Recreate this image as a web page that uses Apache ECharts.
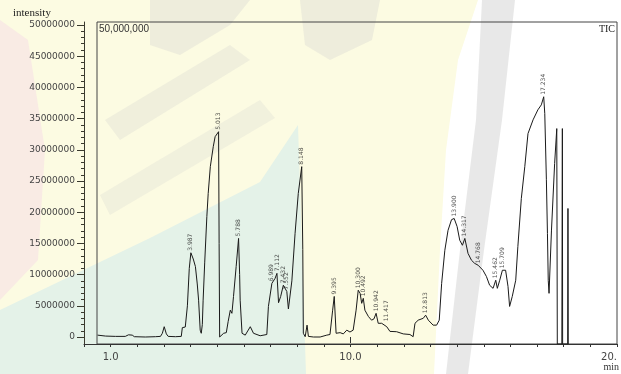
<!DOCTYPE html>
<html>
<head>
<meta charset="utf-8">
<script src="https://cdn.jsdelivr.net/npm/echarts@6/dist/echarts.min.js"></script>
<style>
html,body{margin:0;padding:0;background:#fff;}
#c{width:621px;height:374px;}
</style>
</head>
<body>
<div id="c"></div>
<script>
// Retention time (min)
const times = [0.51,0.81,1.18,1.55,1.67,1.74,1.81,1.89,2.30,2.68,2.87,2.94,3.01,3.09,3.16,3.43,3.65,3.69,3.80,3.88,3.95,4.01,4.10,4.18,4.25,4.30,4.36,4.40,4.44,4.47,4.53,4.61,4.66,4.74,4.85,4.92,5.05,5.07,5.09,5.11,5.24,5.34,5.41,5.49,5.55,5.61,5.71,5.80,5.84,5.86,5.93,6.05,6.24,6.36,6.61,6.86,6.92,7.05,7.17,7.24,7.30,7.38,7.48,7.54,7.61,7.67,7.71,7.80,7.92,8.04,8.17,8.21,8.23,8.30,8.37,8.42,8.61,8.86,9.11,9.23,9.33,9.39,9.46,9.61,9.73,9.86,9.98,10.10,10.21,10.29,10.36,10.42,10.48,10.54,10.67,10.79,10.88,10.96,11.04,11.17,11.36,11.48,11.73,11.98,12.23,12.35,12.42,12.54,12.73,12.82,12.92,13.10,13.23,13.33,13.42,13.54,13.66,13.79,13.89,14.00,14.10,14.20,14.29,14.41,14.54,14.60,14.66,14.79,14.97,15.10,15.22,15.35,15.45,15.51,15.60,15.70,15.82,15.91,15.97,16.07,16.20,16.28,16.41,16.54,16.66,16.85,17.03,17.16,17.25,17.29,17.35,17.39,17.42,17.45,17.54,17.66,17.74,17.76,17.93,17.95,17.96,18.15,18.16,18.17];
// Intensity (millions of counts)
const intensityM = [0.3,0.15,0.1,0.1,0.35,0.5,0.3,0.05,0.0,0.05,0.1,0.6,1.65,0.5,0.1,0.05,0.1,1.5,1.6,5,11,13.5,12.5,11.3,8.5,5.9,1.1,0.6,2,5.9,12,19.3,23,27.3,30.5,32.1,32.9,15,0.0,0.3,0.6,0.7,2.5,4.3,3.8,6.5,11.3,15.8,10,5.9,0.6,0.3,1.65,0.6,0.2,0.4,4.9,8.6,9.4,10.2,5.5,6.5,8.3,8.0,7.3,4.5,4.3,9,16.6,23,27.3,14,0.6,0.05,1.9,0.1,0.0,0.0,0.3,0.4,4.3,6.5,0.6,0.7,0.5,1.1,0.8,1.1,4.3,7.5,7.0,5.4,6.2,4.3,3.3,2.7,2.9,3.8,2.2,2.2,1.65,0.9,0.85,0.5,0.4,0.05,2.2,2.7,3.0,3.5,2.7,1.9,1.9,2.7,8.6,13.9,17.1,18.8,19.0,17.7,15.5,14.7,15.8,13.4,12.3,12.3,11.8,11.5,10.7,9.7,8.3,7.8,9.1,7.8,9.1,10.7,10.7,8.1,4.9,6.5,9.1,14.5,22.2,27.3,32.6,34.8,36.4,37.2,38.5,35.8,25.2,16.6,9.1,7.0,17,27.8,33.4,-1.12,-1.12,33.4,-1.12,-1.12,20.6,-1.12];

// Peak annotations
const peakTimes  = [4.01,5.05,5.80,7.05,7.24,7.48,7.61,8.17,9.39,10.29,10.48,10.96,11.36,12.82,13.89,14.29,14.79,15.45,15.70,17.25];
const peakValsM  = [13.5,32.9,15.8,8.6,10.2,8.3,7.3,27.3,6.5,7.5,6.2,3.8,2.2,3.5,19.0,15.8,11.5,9.1,10.7,38.5];
const peakLabels = ["3.987","5.013","5.788","6.989","7.112","7.432","7.552","8.148","9.395","10.300","10.492","10.942","11.417","12.813","13.900","14.317","14.768","15.462","15.709","17.234"];

// Axis ticks
const yMajor = [0,5000000,10000000,15000000,20000000,25000000,30000000,35000000,40000000,45000000,50000000];
const yMinor = [];
for (let v = 1000000; v < 50000000; v += 1000000) if (v % 5000000 !== 0) yMinor.push(v);
const xLabels = {1: "1.0", 10: "10.0", 20: "20."};

const chart = echarts.init(document.getElementById('c'), null, {renderer: 'canvas'});

const bg = [
  {type:'polygon', z:-10, shape:{points:[[0,0],[478,0],[458,60],[446,150],[440,250],[434,374],[0,374]]}, style:{fill:'#fcfbe2'}},
  {type:'polygon', z:-9, shape:{points:[[0,20],[28,40],[45,150],[38,260],[0,300]]}, style:{fill:'#f9ebe4'}},
  {type:'polygon', z:-9, shape:{points:[[0,310],[150,238],[260,182],[298,125],[306,374],[0,374]]}, style:{fill:'#e4f2e8'}},
  {type:'polygon', z:-8, shape:{points:[[482,0],[515,0],[502,120],[484,250],[468,374],[446,374],[460,250],[476,120]]}, style:{fill:'rgba(205,205,205,0.45)'}},
  {type:'polygon', z:-8, shape:{points:[[300,0],[380,0],[372,40],[330,60],[305,45]]}, style:{fill:'rgba(205,205,205,0.3)'}},
  {type:'polygon', z:-8, shape:{points:[[150,0],[250,0],[230,25],[180,55],[150,45]]}, style:{fill:'rgba(205,205,205,0.3)'}},
  {type:'polygon', z:-8, shape:{points:[[105,120],[230,45],[250,60],[120,140]]}, style:{fill:'rgba(205,205,205,0.25)'}},
  {type:'polygon', z:-8, shape:{points:[[100,195],[260,100],[275,118],[110,215]]}, style:{fill:'rgba(205,205,205,0.22)'}}
];

const labelsG = [
  {type:'text', left:13, top:8, style:{text:'intensity', font:'11px "Liberation Serif"', fill:'#222'}},
  {type:'text', left:99, top:24, style:{text:'50,000,000', font:'10px "Liberation Sans"', fill:'#333'}},
  {type:'text', right:6, top:24, style:{text:'TIC', font:'10px "Liberation Serif"', fill:'#222'}},
  {type:'text', right:2, top:362, style:{text:'min', font:'10px "Liberation Serif"', fill:'#333'}}
];

chart.setOption({
  animation: false,
  backgroundColor: '#ffffff',
  graphic: bg.concat(labelsG),
  grid: [
    {left:84, right:4, top:22, bottom:30, containLabel:false},
    {left:97, right:4, top:22, bottom:30, show:true, borderColor:'#444', borderWidth:1, backgroundColor:'transparent'}
  ],
  xAxis: [
    {type:'value', gridIndex:0, min:0, max:20, interval:1,
     axisLine:{show:true, onZero:false, lineStyle:{color:'#333', width:1}},
     axisTick:{show:true, length:3, lineStyle:{color:'#333'}},
     axisLabel:{margin:8, fontSize:10, fontFamily:'DejaVu Sans', color:'#444', alignMaxLabel:'right',
       formatter: v => xLabels[v] || ''},
     splitLine:{show:false}},
    {type:'value', gridIndex:0, min:0, max:20, position:'bottom',
     axisLine:{show:false}, axisLabel:{show:false}, splitLine:{show:false},
     axisTick:{show:true, length:6, customValues:[10], lineStyle:{color:'#333'}}},
    {type:'value', gridIndex:1, show:false, min:0, max:1}
  ],
  yAxis: [
    {type:'value', gridIndex:0, min:-1120000, max:50480000, position:'left',
     axisLine:{show:true, lineStyle:{color:'#3a3a2e', width:1}},
     axisTick:{show:true, length:7, customValues:yMajor, lineStyle:{color:'#3a3a2e'}},
     axisLabel:{show:true, customValues:yMajor, margin:9, fontSize:9, fontFamily:'DejaVu Sans', color:'#444',
       formatter: v => String(v)},
     splitLine:{show:false}},
    {type:'value', gridIndex:0, min:-1120000, max:50480000, position:'left', offset:0,
     axisLine:{show:false}, axisLabel:{show:false}, splitLine:{show:false},
     axisTick:{show:true, length:3, customValues:yMinor, lineStyle:{color:'#3a3a2e'}}},
    {type:'value', gridIndex:1, show:false, min:0, max:1}
  ],
  series: [
    {type:'line', xAxisIndex:0, yAxisIndex:0, clip:true, symbol:'none', silent:true,
     lineStyle:{color:'#1a1a1a', width:1},
     data: times.map((t,i) => [t, intensityM[i]*1e6])},
    {type:'scatter', xAxisIndex:0, yAxisIndex:0, symbolSize:0, silent:true,
     data: peakTimes.map((t,i) => [t, peakValsM[i]*1e6]),
     label:{show:true, position:'top', distance:2, rotate:90, align:'left', verticalAlign:'middle',
       fontSize:6, fontFamily:'DejaVu Sans', color:'#222',
       formatter: p => peakLabels[p.dataIndex]}}
  ]
});
</script>
</body>
</html>
